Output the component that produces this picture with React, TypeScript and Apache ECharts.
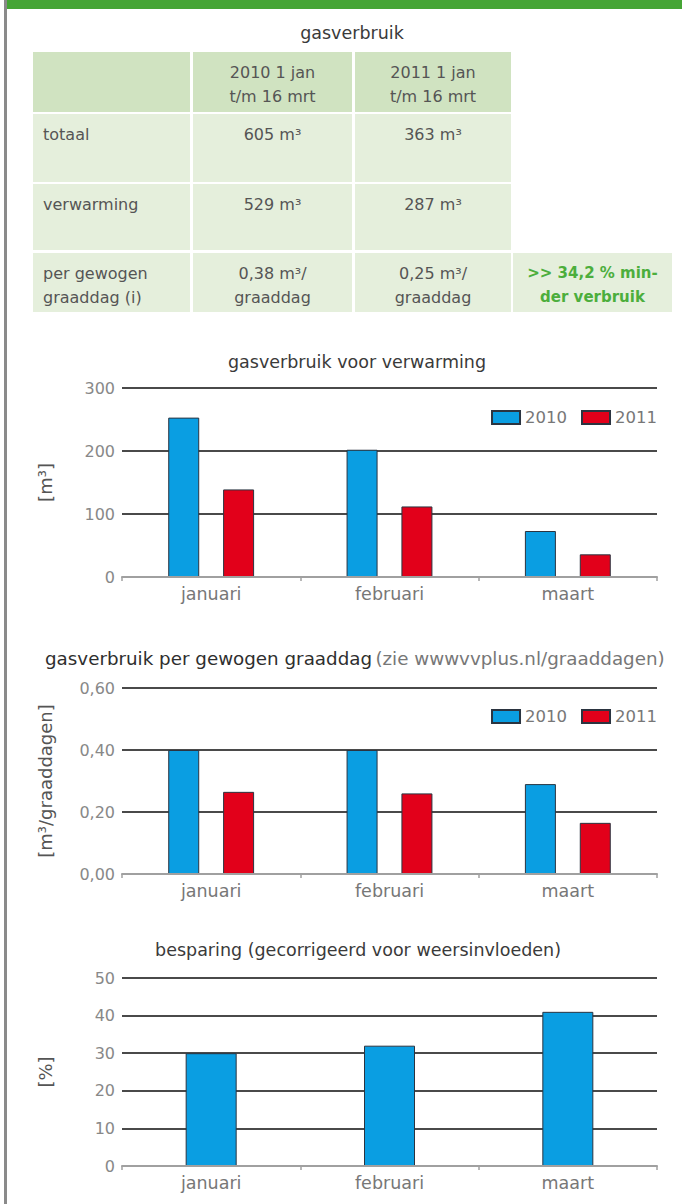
import React, { useEffect, useRef } from 'react';
import * as echarts from 'echarts';

// ---------- data ----------
const categories = ['januari', 'februari', 'maart'];
const seriesNames = ['2010', '2011'];
const verwarming2010 = [253, 202, 73];
const verwarming2011 = [139, 112, 36];
const graaddag2010 = [0.4, 0.4, 0.29];
const graaddag2011 = [0.265, 0.26, 0.165];
const besparing = [30, 32, 41];

const yTicks1 = { min: 0, max: 300, interval: 100 };
const yTicks2 = { min: 0, max: 0.6, interval: 0.2 };
const yTicks3 = { min: 0, max: 50, interval: 10 };

const tableTitle = 'gasverbruik';
const tableHeader = ['', '2010 1 jan\nt/m 16 mrt', '2011 1 jan\nt/m 16 mrt'];
const tableRowLabels = ['totaal', 'verwarming', 'per gewogen\ngraaddag (i)'];
const table2010 = ['605 m³', '529 m³', '0,38 m³/\ngraaddag'];
const table2011 = ['363 m³', '287 m³', '0,25 m³/\ngraaddag'];
const tableNote = '>> 34,2 % min-\nder verbruik';

const chartTitle1 = 'gasverbruik voor verwarming';
const chartTitle2Main = 'gasverbruik per gewogen graaddag';
const chartTitle2Note = '(zie wwwvvplus.nl/graaddagen)';
const chartTitle3 = 'besparing (gecorrigeerd voor weersinvloeden)';
const yAxisNames = ['[m³]', '[m³/graaddagen]', '[%]'];

// ---------- style / layout ----------
const FONT = 'DejaVu Sans';
const BLUE = '#0a9ee2';
const RED = '#e2001a';
const BORDER = '#2b3440';
const GRID_LINE = '#4a4a4a';
const AXIS_LINE = '#a0a0a0';
const TEXT = '#555';
const HEADER_BG = '#d0e3c1';
const BODY_BG = '#e5efdc';
const NOTE_GREEN = '#4cae3c';

const colX = [33, 193, 355, 513];
const colW = [157, 159, 156, 159];
const rowY = [52, 114, 184, 253];
const rowH = [60, 68, 66, 59];

const grids = [
  { left: 122, top: 388, width: 535, height: 189 },
  { left: 122, top: 688, width: 535, height: 186 },
  { left: 122, top: 978, width: 535, height: 188 },
];

function buildTable(): any[] {
  const els: any[] = [];
  for (let r = 0; r < 4; r++) {
    for (let c = 0; c < 3; c++) {
      els.push({
        type: 'rect',
        shape: { x: colX[c], y: rowY[r], width: colW[c], height: rowH[r] },
        style: { fill: r === 0 ? HEADER_BG : BODY_BG },
      });
    }
  }
  els.push({
    type: 'rect',
    shape: { x: colX[3], y: rowY[3], width: colW[3], height: rowH[3] },
    style: { fill: BODY_BG },
  });
  const txt = (text: string, x: number, y: number, align: string, extra: any = {}) => ({
    type: 'text',
    x,
    y,
    style: {
      text,
      fill: TEXT,
      font: `16px "${FONT}"`,
      textAlign: align,
      textVerticalAlign: 'top',
      lineHeight: 24,
      ...extra,
    },
  });
  els.push(txt(tableHeader[1], colX[1] + colW[1] / 2, rowY[0] + 8, 'center'));
  els.push(txt(tableHeader[2], colX[2] + colW[2] / 2, rowY[0] + 8, 'center'));
  for (let i = 0; i < 3; i++) {
    const y = rowY[i + 1] + 8;
    els.push(txt(tableRowLabels[i], colX[0] + 10, y, 'left'));
    els.push(txt(table2010[i], colX[1] + colW[1] / 2, y, 'center'));
    els.push(txt(table2011[i], colX[2] + colW[2] / 2, y, 'center'));
  }
  els.push(
    txt(tableNote, colX[3] + colW[3] / 2, rowY[3] + 8, 'center', {
      fill: NOTE_GREEN,
      font: `bold 15px "${FONT}"`,
    })
  );
  return els;
}

function App() {
  const ref = useRef<HTMLDivElement>(null);
  useEffect(() => {
    if (!ref.current) return;
    const chart = echarts.init(ref.current, null, { renderer: 'svg' });

    const titleText = (text: string, x: number, y: number, align = 'center') => ({
      type: 'text',
      x,
      y,
      style: {
        text,
        fill: '#3a3a3a',
        font: `17.5px "${FONT}"`,
        textAlign: align,
        textVerticalAlign: 'middle',
      },
    });

    const xAxisBase = (gi: number) => ({
      type: 'category',
      gridIndex: gi,
      data: categories,
      boundaryGap: true,
      axisLine: { show: true, lineStyle: { color: AXIS_LINE, width: 2 } },
      axisTick: { show: true, length: 4, lineStyle: { color: AXIS_LINE, width: 1.5 } },
      axisLabel: { color: '#777', fontSize: 17.5, fontFamily: FONT, margin: 8 },
      z: 5,
    });
    const yAxisBase = (gi: number, t: any, name: string, gap: number, fmt?: any) => ({
      type: 'value',
      gridIndex: gi,
      min: t.min,
      max: t.max,
      interval: t.interval,
      name,
      nameLocation: 'middle',
      nameRotate: 90,
      nameGap: gap,
      nameTextStyle: { color: '#555', fontSize: 18, fontFamily: FONT },
      axisLine: { show: false },
      axisTick: { show: false },
      axisLabel: { color: '#888', fontSize: 16, fontFamily: FONT, margin: 7, formatter: fmt },
      splitLine: { show: true, lineStyle: { color: GRID_LINE, width: 2 } },
    });

    const barStyle = (color: string) => ({ color, borderColor: BORDER, borderWidth: 1 });

    const legendBase = (top: number) => ({
      data: seriesNames,
      right: 25,
      top,
      orient: 'horizontal',
      itemWidth: 28,
      itemHeight: 13,
      itemGap: 14,
      padding: 0,
      icon: 'rect',
      textStyle: { color: '#777', fontSize: 16.5, fontFamily: FONT },
      selectedMode: false,
    });

    const option: any = {
      animation: false,
      backgroundColor: '#fff',
      textStyle: { fontFamily: FONT },
      grid: grids.map((g) => ({ ...g, containLabel: false })),
      legend: [legendBase(409), legendBase(708)],
      xAxis: [xAxisBase(0), xAxisBase(1), xAxisBase(2)],
      yAxis: [
        yAxisBase(0, yTicks1, yAxisNames[0], 68),
        yAxisBase(1, yTicks2, yAxisNames[1], 68, (v: number) => v.toFixed(2).replace('.', ',')),
        yAxisBase(2, yTicks3, yAxisNames[2], 68),
      ],
      series: [
        {
          name: seriesNames[0],
          type: 'bar',
          xAxisIndex: 0,
          yAxisIndex: 0,
          data: verwarming2010,
          barWidth: 31,
          barGap: '77%',
          itemStyle: barStyle(BLUE),
        },
        {
          name: seriesNames[1],
          type: 'bar',
          xAxisIndex: 0,
          yAxisIndex: 0,
          data: verwarming2011,
          barWidth: 31,
          barGap: '77%',
          itemStyle: barStyle(RED),
        },
        {
          name: seriesNames[0],
          type: 'bar',
          xAxisIndex: 1,
          yAxisIndex: 1,
          data: graaddag2010,
          barWidth: 31,
          barGap: '77%',
          itemStyle: barStyle(BLUE),
        },
        {
          name: seriesNames[1],
          type: 'bar',
          xAxisIndex: 1,
          yAxisIndex: 1,
          data: graaddag2011,
          barWidth: 31,
          barGap: '77%',
          itemStyle: barStyle(RED),
        },
        {
          name: 'besparing',
          type: 'bar',
          xAxisIndex: 2,
          yAxisIndex: 2,
          data: besparing,
          barWidth: 51,
          itemStyle: barStyle(BLUE),
        },
      ],
      graphic: [
        { type: 'rect', shape: { x: 4, y: 0, width: 678, height: 9 }, style: { fill: '#45a535' } },
        { type: 'rect', shape: { x: 4, y: 0, width: 3, height: 1204 }, style: { fill: '#8a8a8a' } },
        titleText(tableTitle, 352, 33),
        ...buildTable(),
        titleText(chartTitle1, 357, 362),
        {
          type: 'text',
          x: 45,
          y: 658,
          style: {
            text: `{a|${chartTitle2Main}} {b|${chartTitle2Note}}`,
            textVerticalAlign: 'middle',
            textAlign: 'left',
            rich: {
              a: { fill: '#2e2e2e', font: `18.3px "${FONT}"` },
              b: { fill: '#777', font: `18.3px "${FONT}"` },
            },
          },
        },
        titleText(chartTitle3, 358, 950),
      ],
    };
    chart.setOption(option);
    return () => chart.dispose();
  }, []);
  return (
    <div
      ref={ref}
      style={{ position: 'absolute', left: 0, top: 0, width: 682, height: 1204, background: '#fff' }}
    />
  );
}

export default App;
